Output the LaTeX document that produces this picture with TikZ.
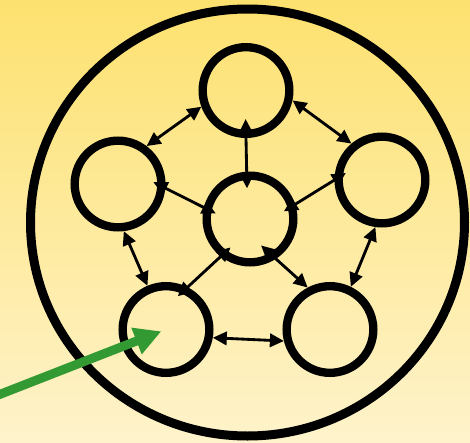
\documentclass[tikz,border=0pt]{standalone}
\usetikzlibrary{arrows.meta}
\definecolor{bgtop}{HTML}{FDE16F}
\definecolor{bgbottom}{HTML}{FEF3CB}
\definecolor{pointgreen}{HTML}{339933}
\begin{document}
\begin{tikzpicture}[x=0.03cm,y=-0.03cm,
  peer/.style={circle,draw=black,line width=0.25cm,minimum size=2.6cm,inner sep=0pt},
  link/.style={line width=0.085cm,>={Triangle[length=0.42cm,width=0.4cm]},<->},
  spoke/.style={link,shorten <=-0.4cm,shorten >=-0.4cm},
  pointer/.style={draw=pointgreen,line width=0.27cm,>={Triangle[length=0.8cm,width=0.8cm]},->}]
\useasboundingbox (0,0) rectangle (470,442);
\shade[top color=bgtop,bottom color=bgbottom] (0,0) rectangle (470,442);
% outer ring
\draw[line width=0.27cm] (247.5,222.5) ellipse [x radius=217,y radius=213.5];
% peers
\node[peer] (peerN) at (246,90.5) {};
\node[peer] (peerW) at (118,184) {};
\node[peer] (peerE) at (382,180) {};
\node[peer] (hub) at (250,219) {};
\node[peer] (peerSW) at (166,329.5) {};
\node[peer] (peerSE) at (330,329.5) {};
% links round the pentagon
\draw[link] (peerN.200) -- (peerW.53);
\draw[link] (peerN.348) -- (peerE.130);
\draw[link] (peerW.277) -- (peerSW.113);
\draw[link] (peerE.262) -- (peerSE.64);
\draw[link] (peerSW.350) -- (peerSE.194);
% spokes from the hub
\draw[spoke,shorten <=-0.5cm,shorten >=-0.57cm] (hub.94) -- (peerN.270);
\draw[spoke] (hub.166) -- (peerW.355);
\draw[spoke] (hub.18) -- (peerE.180);
\draw[spoke] (hub.232) -- (peerSW.63);
\draw[spoke,shorten <=-0.6cm,shorten >=0cm] (hub.303) -- (peerSE.118);
% pointer
\coordinate (outside) at (-12,399);
\draw[pointer,shorten >=0.15cm] (outside) -- (peerSW.center);
\end{tikzpicture}
\end{document}
